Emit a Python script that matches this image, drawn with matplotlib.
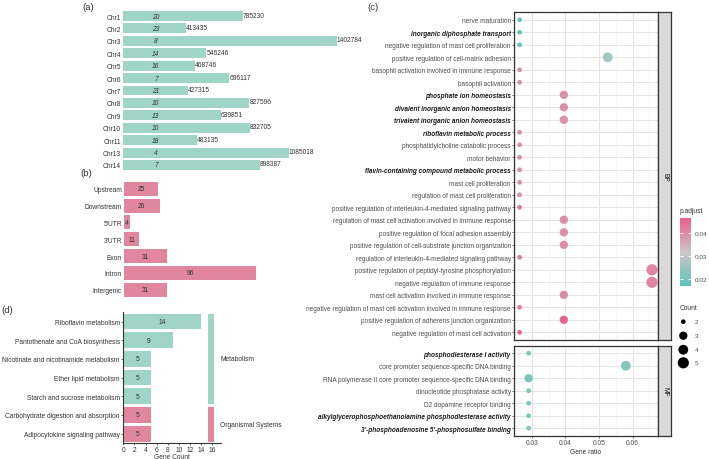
import numpy as np
import matplotlib.pyplot as plt
from matplotlib.colors import LinearSegmentedColormap, Normalize
from matplotlib.cm import ScalarMappable

plt.rcParams['font.family'] = ['Liberation Sans', 'DejaVu Sans']

# (a) chromosome length and gene number
chroms = ['Chr1', 'Chr2', 'Chr3', 'Chr4', 'Chr5', 'Chr6', 'Chr7', 'Chr8', 'Chr9',
          'Chr10', 'Chr11', 'Chr13', 'Chr14']
chr_length = [785230, 413435, 1402784, 546246, 468746, 696117, 427315, 827596,
              639851, 832705, 483135, 1085018, 898387]
chr_genes = [20, 23, 8, 14, 16, 7, 21, 10, 13, 10, 18, 4, 7]

# (b) genomic regions
regions = ['Upstream', 'Downstream', "5'UTR", "3'UTR", 'Exon', 'Intron', 'Intergenic']
region_counts = [25, 26, 4, 11, 31, 96, 31]

# (c) GO enrichment
bp_terms = ['nerve maturation', 'inorganic diphosphate transport',
            'negative regulation of mast cell proliferation',
            'positive regulation of cell-matrix adhesion',
            'basophil activation involved in immune response', 'basophil activation',
            'phosphate ion homeostasis', 'divalent inorganic anion homeostasis',
            'trivalent inorganic anion homeostasis', 'riboflavin metabolic process',
            'phosphatidylcholine catabolic process', 'motor behavior',
            'flavin-containing compound metabolic process', 'mast cell proliferation',
            'regulation of mast cell proliferation',
            'positive regulation of interleukin-4-mediated signaling pathway',
            'regulation of mast cell activation involved in immune response',
            'positive regulation of focal adhesion assembly',
            'positive regulation of cell-substrate junction organization',
            'regulation of interleukin-4-mediated signaling pathway',
            'positive regulation of peptidyl-tyrosine phosphorylation',
            'negative regulation of immune response',
            'mast cell activation involved in immune response',
            'negative regulation of mast cell activation involved in immune response',
            'positive regulation of adherens junction organization',
            'negative regulation of mast cell activation']
bp_ratio = [0.0263, 0.0263, 0.0263, 0.0526, 0.0263, 0.0263, 0.0395, 0.0395, 0.0395,
            0.0263, 0.0263, 0.0263, 0.0263, 0.0263, 0.0263, 0.0263, 0.0395, 0.0395,
            0.0395, 0.0263, 0.0658, 0.0658, 0.0395, 0.0263, 0.0395, 0.0263]
bp_count = [2, 2, 2, 4, 2, 2, 3, 3, 3, 2, 2, 2, 2, 2, 2, 2, 3, 3, 3, 2, 5, 5, 3, 2, 3, 2]
bp_padj = [0.0175, 0.0175, 0.0175, 0.027, 0.040, 0.040, 0.0395, 0.0395, 0.0395,
           0.040, 0.040, 0.040, 0.040, 0.040, 0.040, 0.043, 0.040, 0.040, 0.040,
           0.042, 0.041, 0.041, 0.040, 0.042, 0.046, 0.046]

mf_terms = ['phosphodiesterase I activity', 'core promoter sequence-specific DNA binding',
            'RNA polymerase II core promoter sequence-specific DNA binding',
            'dinucleotide phosphatase activity', 'D2 dopamine receptor binding',
            'alkylglycerophosphoethanolamine phosphodiesterase activity',
            "3'-phosphoadenosine 5'-phosphosulfate binding"]
mf_ratio = [0.029, 0.058, 0.029, 0.029, 0.029, 0.029, 0.029]
mf_count = [2, 4, 3, 2, 2, 2, 2]
mf_padj = [0.021, 0.022, 0.021, 0.021, 0.021, 0.021, 0.021]

highlight = ['inorganic diphosphate transport', 'phosphate ion homeostasis',
             'divalent inorganic anion homeostasis', 'trivalent inorganic anion homeostasis',
             'riboflavin metabolic process', 'flavin-containing compound metabolic process',
             'phosphodiesterase I activity',
             'alkylglycerophosphoethanolamine phosphodiesterase activity',
             "3'-phosphoadenosine 5'-phosphosulfate binding"]

# (d) KEGG pathways
kegg_paths = ['Riboflavin metabolism', 'Pantothenate and CoA biosynthesis',
              'Nicotinate and nicotinamide metabolism', 'Ether lipid metabolism',
              'Starch and sucrose metabolism', 'Carbohydrate digestion and absorption',
              'Adipocytokine signaling pathway']
kegg_counts = [14, 9, 5, 5, 5, 5, 5]
kegg_class = ['Metabolism'] * 5 + ['Organismal Systems'] * 2

TEAL = '#9fd4c7'
PINK = '#e0879e'
GREY = '#4d4d4d'
DARK = '#333333'

W, H = 709, 460
fig = plt.figure(figsize=(W / 100, H / 100), dpi=100)


def add_ax(l, t, r, b):
    return fig.add_axes([l / W, 1 - b / H, (r - l) / W, (b - t) / H])


def fig_text(x, y, s, **kw):
    fig.text(x / W, 1 - y / H, s, **kw)


# ---- (a)
ax = add_ax(123, 10.8, 360, 172.2)
y = np.arange(len(chroms))
ax.barh(y, chr_length, height=0.8, color=TEAL)
ax.set_ylim(len(chroms) - 0.5, -0.5)
ax.set_xlim(0, max(chr_length) * (360 - 123) / (337 - 123))
for yi, v, n in zip(y, chr_length, chr_genes):
    ax.text(v, yi - 0.08, str(v), ha='left', va='center', fontsize=4.8, color=DARK,
            clip_on=False)
    ax.text(0.139, yi, str(n), transform=ax.get_yaxis_transform(), ha='center',
            va='center', fontsize=4.8, style='italic', color=DARK)
ax.set_yticks(y, chroms)
ax.tick_params(axis='y', length=0, pad=1.5, labelsize=4.8, labelcolor=DARK)
ax.set_xticks([])
for s in ax.spines.values():
    s.set_visible(False)
fig_text(88, 7, '(a)', fontsize=6.8, ha='center', va='center', color=DARK)

# ---- (b)
ax = add_ax(124, 181.3, 360, 299.2)
y = np.arange(len(regions))
ax.barh(y, region_counts, height=0.83, color=PINK)
ax.set_ylim(len(regions) - 0.5, -0.5)
ax.set_xlim(0, max(region_counts) * (360 - 124) / (256 - 124))
for yi, v in zip(y, region_counts):
    ax.text(v / 2, yi, str(v), ha='center', va='center', fontsize=4.8, color=DARK)
ax.set_yticks(y, regions)
ax.tick_params(axis='y', length=0, pad=1.5, labelsize=4.8, labelcolor=DARK)
ax.set_xticks([])
for s in ax.spines.values():
    s.set_visible(False)
fig_text(86, 174, '(b)', fontsize=6.8, ha='center', va='center', color=DARK)

# ---- (d)
ax = add_ax(123.3, 313.3, 220.7, 444)
y = np.arange(len(kegg_paths))
cols = [TEAL if c == 'Metabolism' else PINK for c in kegg_class]
ax.barh(y, kegg_counts, height=0.84, color=cols)
for yi, v in zip(y, kegg_counts):
    ax.text(v / 2, yi, str(v), ha='center', va='center', fontsize=4.8, color=DARK)
ax.set_ylim(len(kegg_paths) - 0.5, -0.5)
ax.set_xlim(0, 17.5)
ax.set_xticks(range(0, 17, 2))
for cls, col in [('Metabolism', TEAL), ('Organismal Systems', PINK)]:
    idx = [i for i, c in enumerate(kegg_class) if c == cls]
    lo, hi = min(idx) - 0.42, max(idx) + 0.42
    ax.bar(15.75, hi - lo, width=1.1, bottom=lo, color=col)
    ax.text(17.4, (min(idx) + max(idx)) / 2, cls, ha='left', va='center', fontsize=4.8,
            color=DARK, clip_on=False)
ax.set_yticks(y, kegg_paths)
ax.tick_params(length=1.5, width=0.5, pad=1, labelsize=4.8, color=DARK, labelcolor=DARK)
ax.set_xlabel('Gene Count', fontsize=4.8, labelpad=0, color=DARK)
for s in ['top', 'right']:
    ax.spines[s].set_visible(False)
for s in ['left', 'bottom']:
    ax.spines[s].set_color(DARK)
    ax.spines[s].set_linewidth(0.8)
fig_text(7, 311, '(d)', fontsize=6.8, ha='center', va='center', color=DARK)

# ---- (c)
cmap = LinearSegmentedColormap.from_list('padj', ['#5ec4b9', '#c9c6c7', '#ec5d8b'])
norm = Normalize(0.0167, 0.0467)


def dot_size(c):
    return (np.interp(c, [2, 3, 4, 5], [4.7, 8.3, 9.8, 11.2]) * 0.72) ** 2


panels = [(bp_terms, bp_ratio, bp_count, bp_padj, 13.3, 340.8, 'BP'),
          (mf_terms, mf_ratio, mf_count, mf_padj, 346.7, 436.7, 'MF')]
for terms, ratio, count, padj, top, bot, name in panels:
    ax = add_ax(514.3, top, 657.7, bot)
    n = len(terms)
    y = np.arange(n)
    ax.set_xlim(0.02472, 0.06752)
    ax.set_ylim(n - 0.4, -0.6)
    ax.set_xticks([0.03, 0.04, 0.05, 0.06])
    ax.set_xticks([0.025, 0.035, 0.045, 0.055, 0.065], minor=True)
    ax.grid(which='major', color='#e5e5e5', lw=0.7)
    ax.grid(which='minor', axis='x', color='#f0f0f0', lw=0.4)
    ax.set_axisbelow(True)
    ax.scatter(ratio, y, s=[dot_size(c) for c in count], c=padj, cmap=cmap, norm=norm,
               linewidths=0, zorder=3)
    ax.set_yticks(y, terms)
    for lab in ax.get_yticklabels():
        if lab.get_text() in highlight:
            lab.set_fontweight('bold')
            lab.set_fontstyle('italic')
            lab.set_color('#1a1a1a')
        else:
            lab.set_color(GREY)
    ax.tick_params(axis='y', length=1.5, width=0.5, pad=1, labelsize=4.7, color=DARK)
    ax.tick_params(axis='x', which='minor', length=0)
    if name == 'BP':
        ax.tick_params(axis='x', length=0, labelbottom=False)
    else:
        ax.tick_params(axis='x', length=1.5, width=0.5, pad=1, labelsize=4.8, color=DARK,
                       labelcolor=GREY)
        ax.set_xlabel('Gene ratio', fontsize=4.8, labelpad=1, color=DARK)
    for s in ax.spines.values():
        s.set_color(DARK)
        s.set_linewidth(0.9)
    sax = add_ax(657.7, top, 671.3, bot)
    sax.set_facecolor('#d9d9d9')
    sax.set_xticks([])
    sax.set_yticks([])
    for s in sax.spines.values():
        s.set_color(DARK)
        s.set_linewidth(0.9)
    sax.text(0.5, 0.5, name, rotation=270, ha='center', va='center', fontsize=4.8,
             color='#1a1a1a', transform=sax.transAxes)
fig_text(373, 7, '(c)', fontsize=6.8, ha='center', va='center', color=DARK)

# colorbar
cax = add_ax(680, 219.3, 691, 287.3)
cb = fig.colorbar(ScalarMappable(norm=norm, cmap=cmap), cax=cax, ticks=[0.02, 0.03, 0.04])
cb.outline.set_visible(False)
cax.tick_params(direction='in', length=2, width=0.6, color='white', pad=3,
                labelsize=4.6, labelcolor=GREY, left=True, right=True)
fig_text(680, 212, 'p.adjust', fontsize=4.8, ha='left', va='center', color=DARK)

# count legend
legend_counts = [2, 3, 4, 5]
lax = add_ax(676, 315, 709, 370)
lax.set_xlim(676, 709)
lax.set_ylim(370, 315)
lax.axis('off')
ly = [322.7, 336.7, 350.7, 363.8]
lax.scatter([683.3] * 4, ly, s=[dot_size(c) for c in legend_counts], color='black',
            linewidths=0)
for yy, c in zip(ly, legend_counts):
    lax.text(695, yy, str(c), ha='left', va='center', fontsize=4.6, color=GREY)
fig_text(680, 308, 'Count', fontsize=4.8, ha='left', va='center', color=DARK)

fig.savefig('out.png', dpi=100)
